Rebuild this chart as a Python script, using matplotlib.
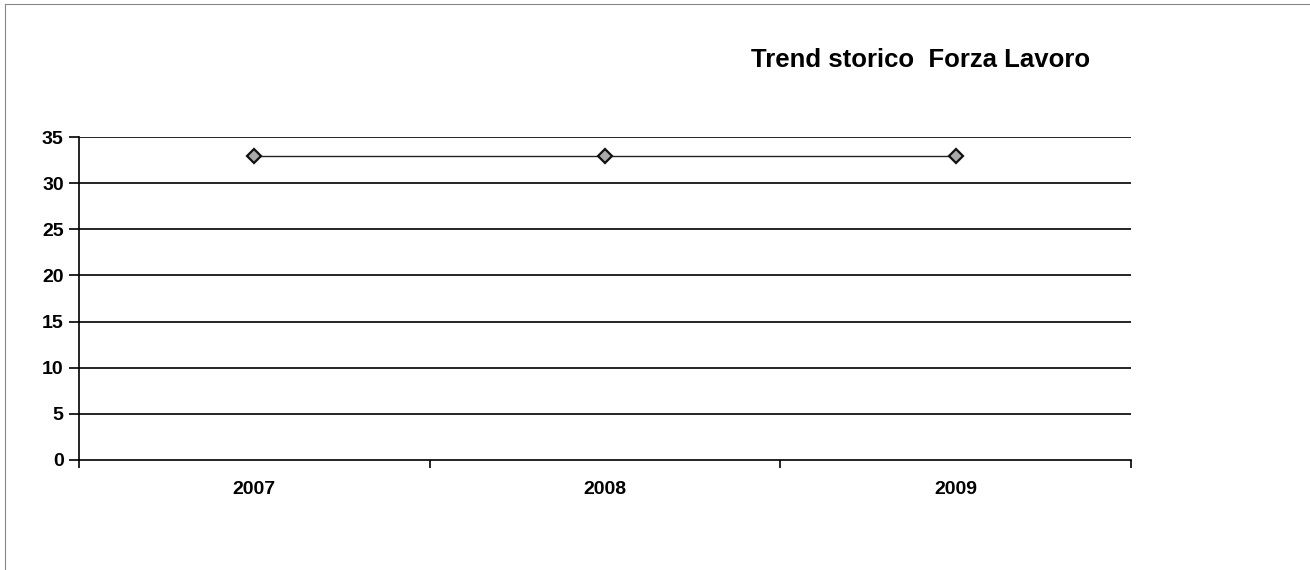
import matplotlib
matplotlib.use("Agg")
import matplotlib.pyplot as plt
from matplotlib.lines import Line2D

years = ["2007", "2008", "2009"]
values = [32.9, 32.9, 32.9]
y_ticks = [0, 5, 10, 15, 20, 25, 30, 35]
title = "Trend storico  Forza Lavoro"

plt.rcParams['font.family'] = ['Liberation Sans', 'DejaVu Sans']

fig = plt.figure(figsize=(13.1, 5.7), dpi=100)
ax = fig.add_axes([79/1310, 1 - 460/570, (1131-79)/1310, (460-137)/570])

x = list(range(len(years)))
ax.plot(x, values, color='#222222', lw=1.0, marker='D', markersize=7,
        markerfacecolor='#aaaaaa', markeredgecolor='#111111', markeredgewidth=1.6, zorder=5)

ax.set_xlim(-0.5, len(years) - 0.5)
ax.set_ylim(0, 35)
ax.set_yticks(y_ticks)
ax.set_yticklabels([str(t) for t in y_ticks], fontsize=14, fontweight='bold')
ax.set_xticks(x)
ax.set_xticklabels(years, fontsize=14, fontweight='bold')
ax.tick_params(axis='x', which='major', length=0, pad=15)
ax.set_xticks([i - 0.5 for i in range(len(years) + 1)], minor=True)
ax.tick_params(axis='x', which='minor', length=6, width=1.2, direction='out', color='black')
ax.tick_params(axis='y', length=7, width=1.2, direction='out', pad=4)

for t in y_ticks[1:]:
    ax.axhline(t, color='black', lw=1.2, zorder=1)

for s in ['top', 'right']:
    ax.spines[s].set_visible(False)
for s in ['left', 'bottom']:
    ax.spines[s].set_linewidth(1.2)
    ax.spines[s].set_color('black')

fig.text(921/1310, 1 - 60/570, title, fontsize=18.5, fontweight='bold', ha='center', va='center')

# figure frame (left and top edges)
fig.add_artist(Line2D([5/1310, 5/1310], [0, 1 - 4/570], transform=fig.transFigure, color='#888888', lw=0.8))
fig.add_artist(Line2D([5/1310, 1], [1 - 4/570, 1 - 4/570], transform=fig.transFigure, color='#888888', lw=0.8))

fig.savefig("out.png", dpi=100)
